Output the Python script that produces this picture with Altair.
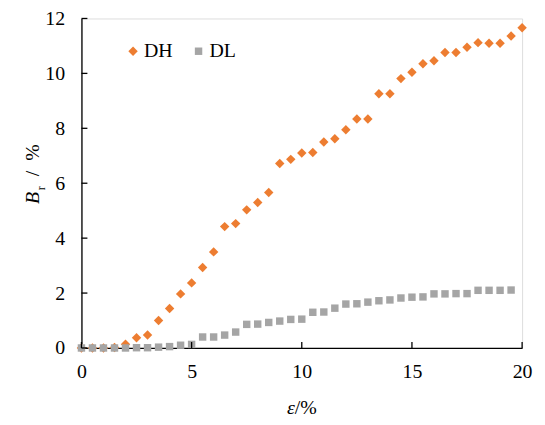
import altair as alt
import pandas as pd

# ---- data ----
eps_dh = [0, 0.5, 1, 1.5, 2, 2.5, 3, 3.5, 4, 4.5, 5, 5.5, 6, 6.5, 7, 7.5, 8, 8.5, 9, 9.5,
          10, 10.5, 11, 11.5, 12, 12.5, 13, 13.5, 14, 14.5, 15, 15.5, 16, 16.5, 17, 17.5,
          18, 18.5, 19, 19.5, 20]
dh = [0, 0, 0, 0.02, 0.14, 0.37, 0.47, 1.0, 1.44, 1.97, 2.37, 2.93, 3.5, 4.42, 4.53, 5.03,
      5.3, 5.66, 6.72, 6.87, 7.1, 7.12, 7.5, 7.62, 7.95, 8.34, 8.34, 9.26, 9.26, 9.81, 10.04,
      10.35, 10.46, 10.76, 10.76, 10.95, 11.12, 11.1, 11.1, 11.36, 11.66]
eps_dl = [0, 0.5, 1, 1.5, 2, 2.5, 3, 3.5, 4, 4.5, 5, 5.5, 6, 6.5, 7, 7.5, 8, 8.5, 9, 9.5,
          10, 10.5, 11, 11.5, 12, 12.5, 13, 13.5, 14, 14.5, 15, 15.5, 16, 16.5, 17, 17.5,
          18, 18.5, 19, 19.5]
dl = [0, 0, 0, 0, 0, 0.01, 0.01, 0.03, 0.05, 0.1, 0.13, 0.4, 0.4, 0.47, 0.58, 0.86, 0.87,
      0.93, 0.98, 1.04, 1.05, 1.3, 1.31, 1.45, 1.6, 1.61, 1.67, 1.72, 1.75, 1.82, 1.85, 1.86,
      1.97, 1.97, 1.98, 1.98, 2.1, 2.1, 2.1, 2.11]
series = ["DH", "DL"]
colors = ["#ED7D31", "#A5A5A5"]
shapes = ["diamond", "square"]
sizes = [90, 56]
x_ticks = [0, 5, 10, 15, 20]
y_ticks = [0, 2, 4, 6, 8, 10, 12]

df = pd.DataFrame({
    "eps": eps_dh + eps_dl,
    "B": dh + dl,
    "series": [series[0]] * len(dh) + [series[1]] * len(dl),
})

W, H = 444, 332
FONT = "'Liberation Serif', 'Times New Roman', serif"

xscale = alt.Scale(domain=[0, 20], nice=False, zero=False)
yscale = alt.Scale(domain=[0, 12], nice=False, zero=False)
xaxis = alt.Axis(values=x_ticks, ticks=False, grid=False, domainColor="black",
                 domainWidth=1.3, labelFont=FONT, labelFontSize=20, labelColor="black",
                 labelPadding=14, title=None, labelFlush=False)
yaxis = alt.Axis(values=y_ticks, ticks=False, grid=False, domainColor="black",
                 domainWidth=1.3, labelFont=FONT, labelFontSize=20, labelColor="black",
                 labelPadding=17, title=None, labelFlush=False)

points = alt.Chart(df).mark_point(filled=True, opacity=1, strokeWidth=0).encode(
    x=alt.X("eps:Q", scale=xscale, axis=xaxis),
    y=alt.Y("B:Q", scale=yscale, axis=yaxis),
    color=alt.Color("series:N", scale=alt.Scale(domain=series, range=colors),
                    legend=alt.Legend(orient="none", legendX=42, legendY=23,
                                      direction="horizontal", title=None,
                                      labelFont=FONT, labelFontSize=20,
                                      labelColor="black", symbolSize=45,
                                      columnPadding=16, labelOffset=1,
                                      symbolStrokeWidth=0)),
    shape=alt.Shape("series:N", scale=alt.Scale(domain=series, range=shapes)),
    size=alt.Size("series:N", scale=alt.Scale(domain=series, range=sizes), legend=None),
    order=alt.Order("series:N", sort="ascending"),
)

xt = alt.Chart(pd.DataFrame({"eps": x_ticks})).mark_rule(color="black", strokeWidth=1.3).encode(
    x=alt.X("eps:Q", scale=xscale, axis=xaxis),
    y=alt.value(H), y2=alt.value(H - 6),
)
yt = alt.Chart(pd.DataFrame({"B": y_ticks})).mark_rule(color="black", strokeWidth=1.3).encode(
    y=alt.Y("B:Q", scale=yscale, axis=yaxis),
    x=alt.value(0), x2=alt.value(6),
)

one = pd.DataFrame({"a": [0]})
xt1 = alt.Chart(one).mark_text(text="ε", font=FONT, fontSize=20, fontStyle="italic",
                               align="right", baseline="alphabetic", color="black").encode(
    x=alt.value(W / 2 - 7), y=alt.value(H + 67))
xt2 = alt.Chart(one).mark_text(text="/%", font=FONT, fontSize=20,
                               align="left", baseline="alphabetic", color="black").encode(
    x=alt.value(W / 2 - 7), y=alt.value(H + 67))

yt1 = alt.Chart(one).mark_text(text="B", font=FONT, fontSize=20, fontStyle="italic", angle=270,
                               align="left", baseline="alphabetic", color="black").encode(
    x=alt.value(-43), y=alt.value(187))
yt3 = alt.Chart(one).mark_text(text="/\u00a0\u00a0%", font=FONT, fontSize=20,
                               angle=270, align="left", baseline="alphabetic",
                               color="black").encode(
    x=alt.value(-43), y=alt.value(159))
yt2 = alt.Chart(one).mark_text(text="r", font=FONT, fontSize=12, angle=270,
                               align="left", baseline="alphabetic", color="black").encode(
    x=alt.value(-37), y=alt.value(173))

chart = alt.layer(points, xt, yt, xt1, xt2, yt1, yt3, yt2).properties(
    width=W, height=H,
    autosize=alt.AutoSizeParams(type="none"),
    padding={"left": 74, "top": 9, "right": 15, "bottom": 70},
).configure_view(stroke=None).configure(background="white")

chart.save("out.html", embed_options={"renderer": "svg", "actions": False})
